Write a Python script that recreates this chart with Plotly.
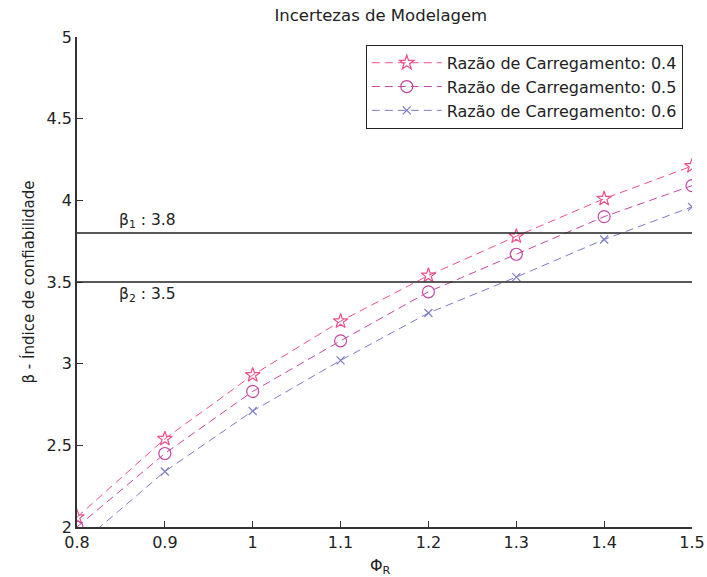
import plotly.graph_objects as go

phi = [0.8, 0.9, 1.0, 1.1, 1.2, 1.3, 1.4, 1.5]
beta_04 = [2.06, 2.54, 2.93, 3.26, 3.54, 3.78, 4.01, 4.21]
beta_05 = [2.00, 2.45, 2.83, 3.14, 3.44, 3.67, 3.90, 4.09]
beta_06 = [1.88, 2.34, 2.71, 3.02, 3.31, 3.53, 3.76, 3.96]
names = ["Razão de Carregamento: 0.4", "Razão de Carregamento: 0.5", "Razão de Carregamento: 0.6"]
targets = [3.8, 3.5]
target_labels = ["β<sub>1</sub> : 3.8", "β<sub>2</sub> : 3.5"]

FONT = "DejaVu Sans, Liberation Sans, Arial"
colors = ["#f0508c", "#c446a4", "#7c7cc8"]
symbols = ["star-open", "circle-open", "x-thin-open"]
sizes = [11, 12, 8]

fig = go.Figure()
for ys, nm, c, s, sz in zip([beta_04, beta_05, beta_06], names, colors, symbols, sizes):
    fig.add_trace(go.Scatter(
        x=phi, y=ys, name=nm, mode="lines+markers",
        line=dict(color=c, width=1, dash="8px,5px"),
        marker=dict(symbol=s, size=sz, color=c, line=dict(color=c, width=1.2)),
        cliponaxis=True,
    ))

for t, lab, off in zip(targets, target_labels, [1, -1]):
    fig.add_shape(type="line", xref="x", yref="y", x0=0.8, x1=1.5, y0=t, y1=t,
                  line=dict(color="#222222", width=1.3))
    fig.add_annotation(x=0.845, y=t, xref="x", yref="y", text=lab, showarrow=False,
                       xanchor="left", yanchor="bottom" if off > 0 else "top",
                       yshift=0 if off > 0 else -1,
                       font=dict(family=FONT, size=15.5, color="#222222"))

fig.add_annotation(x=0.494, y=-0.056, xref="paper", yref="paper", text="Φ<sub>R</sub>",
                   showarrow=False, xanchor="center", yanchor="top",
                   font=dict(family=FONT, size=16, color="#222222"))

fig.update_layout(
    width=707, height=577,
    margin=dict(l=77, r=15, t=37, b=50, autoexpand=False),
    paper_bgcolor="white", plot_bgcolor="white",
    title=dict(text="Incertezas de Modelagem", xref="paper", x=0.494, xanchor="center",
               y=0.974, yanchor="middle",
               font=dict(family=FONT, size=16.5, color="#222222"), automargin=False),
    font=dict(family=FONT, size=16, color="#222222"),
    showlegend=True,
    legend=dict(x=0.985, y=0.984, xanchor="right", yanchor="top",
                bgcolor="white", bordercolor="#222222", borderwidth=1, itemwidth=70,
                font=dict(family=FONT, size=16, color="#222222")),
    xaxis=dict(range=[0.8, 1.5], tickmode="array", tickvals=phi,
               ticktext=["0.8", "0.9", "1", "1.1", "1.2", "1.3", "1.4", "1.5"],
               ticks="inside", ticklen=6, tickcolor="#333333", showgrid=False, zeroline=False,
               showline=True, linecolor="#333333", linewidth=1.5, mirror=False,
               tickfont=dict(family=FONT, size=16), automargin=False, ticklabeloverflow="allow"),
    yaxis=dict(range=[2, 5], tickmode="array", tickvals=[2, 2.5, 3, 3.5, 4, 4.5, 5],
               ticktext=["2", "2.5", "3", "3.5", "4", "4.5", "5"],
               ticks="inside", ticklen=6, tickcolor="#333333", showgrid=False, zeroline=False,
               showline=True, linecolor="#333333", linewidth=1.5, mirror=False,
               tickfont=dict(family=FONT, size=16), automargin=False, ticklabeloverflow="allow",
               title=dict(text="β - Índice de confiabilidade", standoff=8,
                          font=dict(family=FONT, size=15))),
)

fig.write_html("out.html", config={"displayModeBar": False},
               post_script="document.body.style.margin='0';")
